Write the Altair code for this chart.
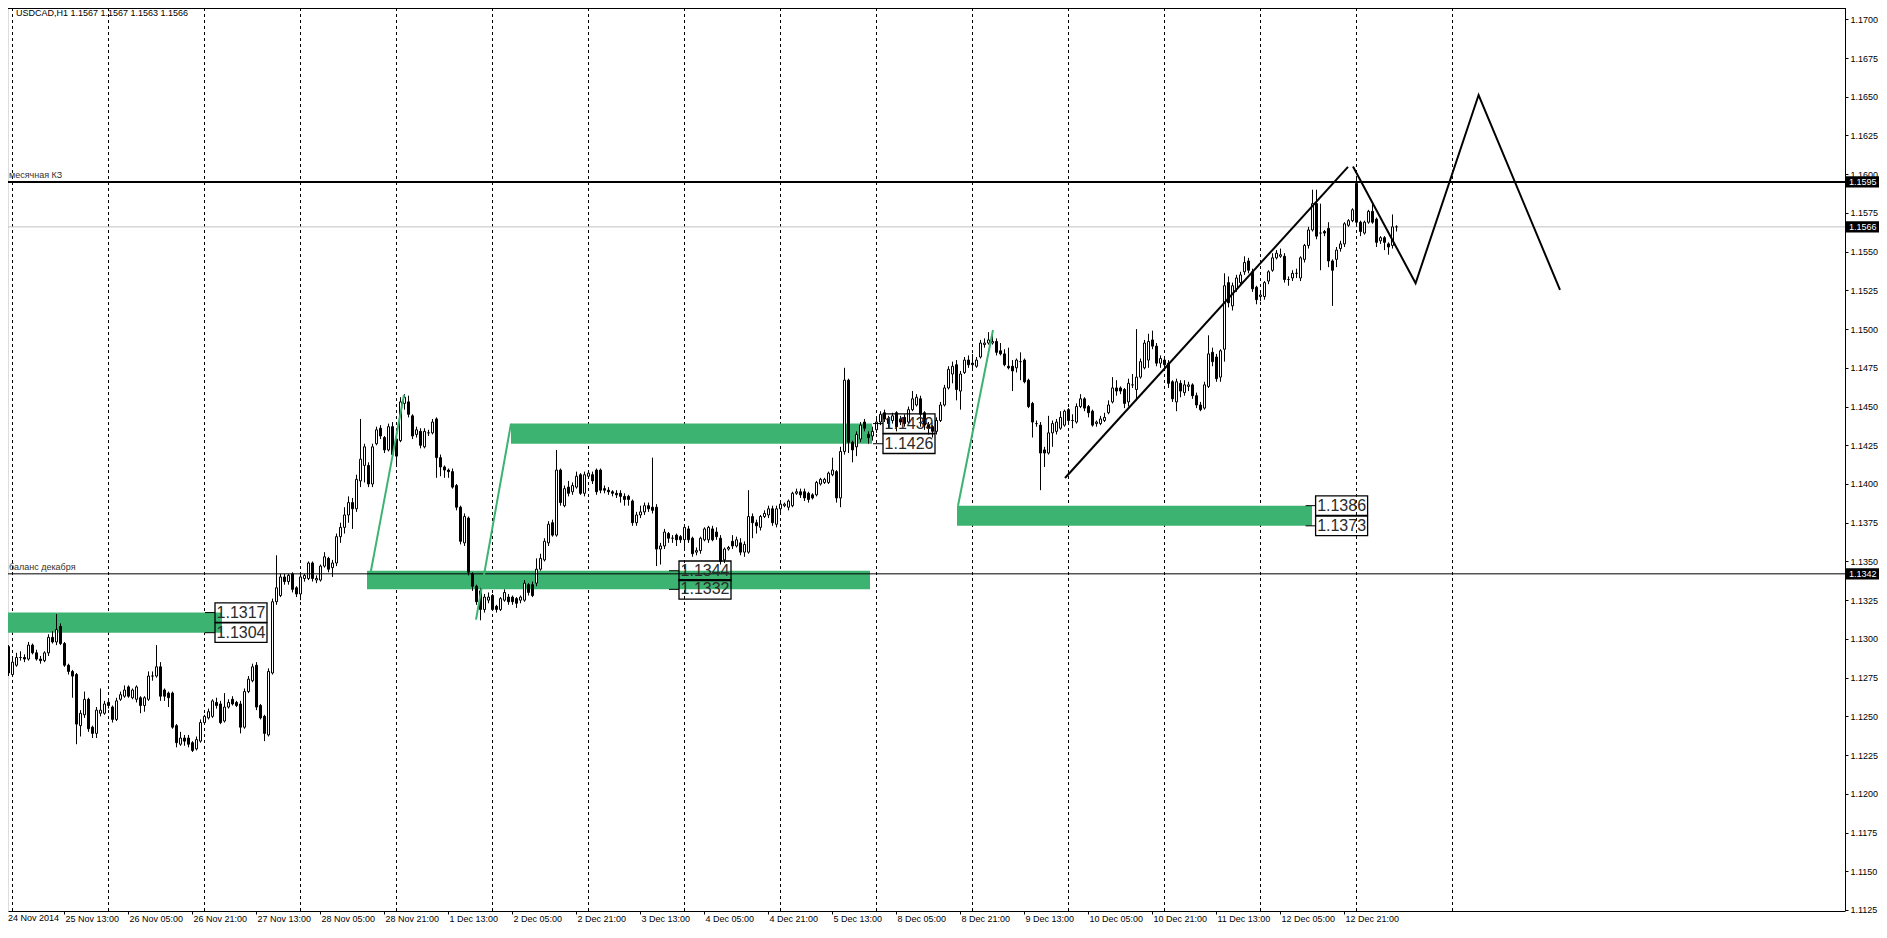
import json
import altair as alt
import pandas as pd

# ---------------- data (candles in pips above 1.1000, one bar per hour) ----------------
BASE = 1.1
PIP = 0.0001

O = [296,299,295,277,283,288,288,287,296,291,
     287,286,291,301,298,308,297,283,279,277,
     244,251,261,243,239,252,252,259,256,248,
     261,263,269,262,261,262,257,261,276,276,
     282,267,265,265,244,232,236,236,233,229,
     234,246,249,250,259,258,247,256,261,259,
     258,243,266,273,283,257,250,238,278,324,
     328,340,337,342,333,329,339,339,349,338,
     338,347,352,346,349,366,372,380,388,384,
     402,412,412,400,426,436,430,422,437,429,
     428,452,453,444,432,434,424,433,433,442,
     417,411,409,408,399,385,362,378,342,334,
     331,319,325,328,321,319,325,327,327,326,
     325,325,335,335,336,345,351,362,375,367,
     409,386,398,395,398,406,394,405,406,409,
     409,397,396,395,394,394,392,392,389,375,
     380,382,386,385,385,358,360,368,365,367,
     366,364,371,365,356,357,364,364,371,369,
     365,351,358,363,360,362,356,356,379,375,
     372,379,380,384,374,384,386,385,386,394,
     395,395,394,393,393,400,401,401,406,408,
     391,421,467,427,424,429,440,432,431,435,
     440,446,442,441,446,442,443,440,448,451,
     455,446,438,437,434,441,451,462,471,477,
     460,472,480,478,476,482,490,491,491,492,
     486,484,476,476,475,479,480,467,452,439,
     438,422,420,433,434,436,438,448,441,440,
     450,455,450,447,439,439,441,446,453,462,
     462,461,453,464,461,469,475,480,493,489,
     478,480,478,466,453,465,459,463,464,457,
     451,449,463,485,482,469,487,530,515,526,
     530,537,544,537,527,521,521,531,538,546,
     547,547,532,533,536,533,545,554,564,581,
     562,563,565,544,545,552,555,567,570,594,
     569,562,569,576,571,557,559,555,554,566]
H = [301,300,296,287,291,292,290,298,297,293,
     289,292,303,305,316,310,298,284,280,278,
     254,266,262,244,256,268,260,261,257,262,
     266,270,270,268,270,263,263,279,279,296,
     285,268,266,266,245,240,238,238,234,237,
     248,251,255,261,262,260,265,261,263,260,
     260,268,276,284,285,258,251,281,326,354,
     342,342,342,343,334,343,342,350,350,341,
     348,356,353,351,368,375,385,392,391,406,
     442,426,414,426,437,438,431,439,440,430,
     456,458,457,445,437,436,436,435,442,443,
     419,412,410,410,400,386,381,379,343,335,
     333,329,330,329,322,327,332,329,328,327,
     328,338,336,337,352,355,365,376,377,422,
     410,399,402,401,408,407,408,409,408,410,
     410,399,398,396,396,396,394,393,390,382,
     386,388,388,417,387,362,371,369,367,368,
     367,374,373,366,359,366,372,373,373,372,
     367,359,360,367,366,365,363,396,381,377,
     380,383,386,386,386,389,388,390,395,397,
     397,397,395,394,402,404,404,408,417,409,
     424,475,468,428,434,440,442,434,437,442,
     447,448,444,446,447,444,445,450,460,458,
     457,447,440,438,443,453,464,476,479,480,
     473,482,483,484,482,493,494,498,499,494,
     491,487,488,480,481,485,481,468,453,441,
     440,424,444,441,442,447,448,449,445,452,
     458,456,451,448,441,444,446,454,469,467,
     463,462,468,471,500,481,493,497,499,491,
     483,482,480,467,468,467,467,466,465,459,
     453,466,496,488,484,487,536,534,530,535,
     537,547,546,539,528,524,531,538,549,551,
     552,549,534,538,539,547,555,566,590,590,
     581,564,569,545,553,557,569,571,578,597,
     570,570,577,582,572,560,560,556,574,567]
L = [292,290,276,276,282,286,285,286,290,286,
     284,285,289,297,296,296,282,277,262,232,
     237,249,240,236,236,250,251,255,246,247,
     260,262,262,261,259,252,253,260,273,275,
     260,260,256,242,230,231,231,230,227,228,
     233,245,248,249,255,245,246,255,257,256,
     239,242,265,272,254,248,234,237,277,322,
     327,335,335,330,327,325,337,338,337,336,
     337,346,343,340,347,362,368,375,371,382,
     398,401,398,398,425,429,420,421,417,412,
     427,448,443,429,430,423,423,431,432,404,
     405,404,404,397,383,361,360,341,331,322,
     312,317,323,318,317,318,324,322,322,320,
     323,324,328,327,334,344,350,360,366,366,
     386,385,392,393,397,393,392,404,400,393,
     394,394,393,392,391,388,386,386,373,373,
     378,380,382,381,347,348,358,362,362,360,
     362,357,362,353,354,355,363,362,363,364,
     348,349,357,358,359,354,353,355,365,368,
     370,378,378,373,372,382,385,383,385,393,
     391,389,388,390,392,399,400,400,405,388,
     385,419,420,414,418,427,434,426,428,433,
     438,440,436,439,434,438,437,439,447,450,
     437,435,432,430,432,440,450,461,465,454,
     448,471,475,474,475,481,488,490,490,483,
     483,476,474,460,472,467,465,449,430,437,
     396,411,419,424,432,435,437,439,436,439,
     449,447,443,437,437,438,440,445,452,457,
     458,449,450,462,454,468,474,475,487,476,
     475,475,462,453,447,456,457,460,455,449,
     447,448,462,476,466,466,479,514,512,524,
     528,535,536,524,516,518,519,529,537,545,
     546,530,528,531,533,531,543,552,563,558,
     538,560,540,515,540,550,553,566,569,566,
     560,561,568,568,553,555,551,548,552,563]
C = [299,295,278,285,288,288,287,296,291,287,
     286,291,301,298,306,297,283,279,276,245,
     252,261,242,239,254,254,258,257,248,260,
     264,267,263,267,269,257,262,276,276,282,
     263,263,262,243,233,236,234,232,228,235,
     246,250,253,260,257,246,256,259,258,257,
     243,266,274,282,256,249,239,279,324,333,
     340,337,341,332,329,340,341,349,339,339,
     347,353,345,349,366,372,380,388,384,403,
     416,424,400,424,435,431,422,437,419,418,
     453,456,445,431,435,425,434,433,440,417,
     411,409,408,398,385,363,379,343,334,324,
     319,327,327,319,319,326,330,324,324,323,
     327,336,330,328,345,352,363,374,367,409,
     388,397,394,399,405,394,406,407,402,395,
     396,396,395,394,393,392,390,390,375,380,
     382,386,384,383,358,360,369,365,365,364,
     364,372,364,355,357,365,371,372,364,366,
     350,358,359,360,364,356,361,379,375,373,
     379,381,384,375,384,387,387,389,394,395,
     393,391,390,391,401,403,403,407,409,391,
     421,467,427,422,432,438,436,430,434,440,
     445,442,439,444,437,440,439,448,455,456,
     445,438,436,434,441,451,462,474,476,461,
     471,480,477,477,480,491,491,493,492,485,
     484,477,475,473,480,479,466,450,440,439,
     420,420,433,439,440,443,447,441,441,450,
     455,449,446,438,440,442,443,451,462,460,
     460,452,465,464,469,479,491,492,489,478,
     481,477,465,455,466,460,464,464,457,451,
     448,464,484,479,468,486,528,517,528,533,
     535,543,538,526,519,522,530,537,546,549,
     548,532,532,536,536,546,554,564,581,560,
     562,562,544,538,551,555,568,570,577,569,
     563,569,576,569,556,559,556,553,566,566]

time_label_bars = [0, 16, 32, 48, 64, 80, 96, 112, 128, 144, 160,
                   176, 192, 208, 224, 240, 256, 272, 288, 304, 320, 336]
time_labels = ["24 Nov 2014", "25 Nov 13:00", "26 Nov 05:00", "26 Nov 21:00",
               "27 Nov 13:00", "28 Nov 05:00", "28 Nov 21:00", "1 Dec 13:00",
               "2 Dec 05:00", "2 Dec 21:00", "3 Dec 13:00", "4 Dec 05:00",
               "4 Dec 21:00", "5 Dec 13:00", "8 Dec 05:00", "8 Dec 21:00",
               "9 Dec 13:00", "10 Dec 05:00", "10 Dec 21:00", "11 Dec 13:00",
               "12 Dec 05:00", "12 Dec 21:00"]
day_start_bars = [3, 27, 51, 75, 99, 123, 147, 171, 195, 219, 243, 267, 291, 315, 339, 363]
price_ticks = [1.1125, 1.1150, 1.1175, 1.1200, 1.1225, 1.1250, 1.1275, 1.1300,
               1.1325, 1.1350, 1.1375, 1.1400, 1.1425, 1.1450, 1.1475, 1.1500,
               1.1525, 1.1550, 1.1575, 1.1600, 1.1625, 1.1650, 1.1675, 1.1700]

zone_start = [0.0, 91.75, 127.75, 239.25]
zone_end = [55.5, 217.5, 218.0, 328.0]
zone_top = [1.1317, 1.1344, 1.1439, 1.1386]
zone_bottom = [1.1304, 1.1332, 1.1426, 1.1373]

tag_bar = [53.75, 53.75, 169.75, 169.75, 220.75, 220.75, 328.9, 328.9]
tag_price = [1.1317, 1.1304, 1.1344, 1.1332, 1.1439, 1.1426, 1.1386, 1.1373]

impulse_bar0 = [92.7, 119.0, 239.5]
impulse_price0 = [1.13434, 1.13124, 1.1386]
impulse_bar1 = [101.0, 127.75, 248.25]
impulse_price1 = [1.14575, 1.1439, 1.14994]

trend_bar0 = [266.25]
trend_price0 = [1.14039]
trend_bar1 = [337.0]
trend_price1 = [1.16047]

zigzag_bar = [338.25, 353.9, 369.65, 390.0]
zigzag_price = [1.1605, 1.15296, 1.16511, 1.15253]

level_price = [1.1595, 1.1342]
level_name = ["месячная КЗ", "баланс декабря"]
level_width = [2, 1]
bid_price = 1.1566
axis_tag_price = [1.1595, 1.1566, 1.1342]
header = "USDCAD,H1  1.1567 1.1567 1.1563 1.1566"

# ---------------- layout / style ----------------
PLOT_W = 1837
PLOT_H = 903
X_DOMAIN = [2, 461.25]
Y_DOMAIN = [1.112434, 1.170729]
FONT = "Liberation Sans"
GREEN = "#3CB371"
BOX_BARS = 13
CONN_BARS = 2.5
BOX_HALF = 0.00063
TAG_HALF = 0.00036

xs = alt.Scale(domain=X_DOMAIN, nice=False, zero=False, padding=0)
ys = alt.Scale(domain=Y_DOMAIN, nice=False, zero=False, padding=0)

label_expr = f"{json.dumps(time_labels)}[indexof({json.dumps(time_label_bars)}, datum.value)]"
x_axis = alt.Axis(values=time_label_bars, labelExpr=label_expr, orient="bottom", title=None,
                  grid=False, tickSize=3, tickColor="black", domainColor="black",
                  labelAlign="left", labelBaseline="top", labelPadding=0, labelOffset=1,
                  labelFont=FONT, labelFontSize=9, labelColor="black",
                  labelOverlap=False, labelFlush=False, labelBound=False)
y_axis = alt.Axis(orient="right", values=price_ticks, format=".4f", title=None, grid=False,
                  domain=False, tickSize=3, tickColor="black", labelPadding=2,
                  labelFont=FONT, labelFontSize=9, labelColor="black",
                  labelOverlap=False, labelFlush=False, labelBound=False)


def X(f):
    return alt.X(f, type="quantitative", scale=xs, axis=x_axis)


def Y(f):
    return alt.Y(f, type="quantitative", scale=ys, axis=y_axis)


candles = pd.DataFrame({
    "bar": list(range(len(O))),
    "o": [round(BASE + v * PIP, 5) for v in O],
    "h": [round(BASE + v * PIP, 5) for v in H],
    "l": [round(BASE + v * PIP, 5) for v in L],
    "c": [round(BASE + v * PIP, 5) for v in C],
})

grid = alt.Chart(pd.DataFrame({"bar": day_start_bars})).mark_rule(
    color="black", strokeWidth=1, strokeDash=[3, 3], xOffset=0.5
).encode(x=X("bar"))

zones = alt.Chart(pd.DataFrame({"x0": zone_start, "x1": zone_end,
                                "top": zone_top, "bot": zone_bottom})).mark_rect(
    color=GREEN, opacity=1
).encode(x=X("x0"), x2="x1", y=Y("top"), y2="bot")

bid = alt.Chart(pd.DataFrame({"p": [bid_price]})).mark_rule(
    color="#c0c0c0", strokeWidth=1
).encode(y=Y("p"))

levels_df = pd.DataFrame({"p": level_price, "name": level_name, "w": level_width})
levels = alt.Chart(levels_df).mark_rule(color="black").encode(
    y=Y("p"), strokeWidth=alt.StrokeWidth("w:Q", scale=None, legend=None))
level_text = alt.Chart(levels_df).mark_text(
    align="left", baseline="bottom", dy=-2, font=FONT, fontSize=9, color="#333333"
).encode(x=alt.value(1), y=Y("p"), text="name")

wicks = alt.Chart(candles).mark_rule(color="black", strokeWidth=1, xOffset=0.5).encode(
    x=X("bar"), y=Y("l"), y2="h")
bodies = alt.Chart(candles).mark_bar(width=2, stroke="black", strokeWidth=1, xOffset=0.5).encode(
    x=X("bar"), y=Y("o"), y2="c",
    fill=alt.condition("datum.c > datum.o", alt.value("white"), alt.value("black")))

impulses = alt.Chart(pd.DataFrame({"x0": impulse_bar0, "y0": impulse_price0,
                                   "x1": impulse_bar1, "y1": impulse_price1})).mark_rule(
    color=GREEN, strokeWidth=2
).encode(x=X("x0"), x2="x1", y=Y("y0"), y2="y1")

trend = alt.Chart(pd.DataFrame({"x0": trend_bar0, "y0": trend_price0,
                                "x1": trend_bar1, "y1": trend_price1})).mark_rule(
    color="black", strokeWidth=2
).encode(x=X("x0"), x2="x1", y=Y("y0"), y2="y1")

zigzag = alt.Chart(pd.DataFrame({"bar": zigzag_bar, "p": zigzag_price,
                                 "k": list(range(len(zigzag_bar)))})).mark_line(
    color="black", strokeWidth=2
).encode(x=X("bar"), y=Y("p"), order="k:Q")

tags = pd.DataFrame({"bar": tag_bar, "p": tag_price})
tags["x2"] = tags["bar"] + BOX_BARS
tags["xc"] = tags["bar"] + BOX_BARS / 2
tags["xc0"] = tags["bar"] - CONN_BARS
tags["lo"] = tags["p"] - BOX_HALF
tags["hi"] = tags["p"] + BOX_HALF
tags["t"] = [f"{v:.4f}" for v in tag_price]

tag_conn = alt.Chart(tags).mark_rule(color="black", strokeWidth=1).encode(
    x=X("xc0"), x2="bar", y=Y("p"))
tag_box = alt.Chart(tags).mark_rect(fill="white", fillOpacity=0, stroke="black", strokeWidth=1.3).encode(
    x=X("bar"), x2="x2", y=Y("lo"), y2="hi")
tag_text = alt.Chart(tags).mark_text(font=FONT, fontSize=16, color="#2b2b2b", baseline="middle").encode(
    x=X("xc"), y=Y("p"), text="t")

atags = pd.DataFrame({"p": axis_tag_price})
atags["lo"] = atags["p"] - TAG_HALF
atags["hi"] = atags["p"] + TAG_HALF
atags["t"] = [f"{v:.4f}" for v in axis_tag_price]
axis_tag_box = alt.Chart(atags).mark_rect(color="black").encode(
    x=alt.value(PLOT_W + 1), x2=alt.value(PLOT_W + 34), y=Y("lo"), y2="hi")
axis_tag_text = alt.Chart(atags).mark_text(
    align="left", baseline="middle", font=FONT, fontSize=9, color="white"
).encode(x=alt.value(PLOT_W + 4), y=Y("p"), text="t")

# first time label sits left of the visible domain, so it is drawn as text below the axis
first_label = alt.Chart(pd.DataFrame({"bar": time_label_bars[:1], "t": time_labels[:1]})).mark_text(
    align="left", baseline="top", dx=8, dy=3, font=FONT, fontSize=9, color="black"
).encode(x=X("bar"), y=alt.value(PLOT_H), text="t")

head = alt.Chart(pd.DataFrame({"t": [header]})).mark_text(
    align="left", baseline="middle", font=FONT, fontSize=9, color="black"
).encode(x=alt.value(8), y=alt.value(4.5), text="t")

frame = pd.DataFrame({"k": [0]})
top_line = alt.Chart(frame).mark_rule(color="black", strokeWidth=1).encode(
    x=alt.value(0), x2=alt.value(PLOT_W), y=alt.value(0.5), y2=alt.value(0.5))
right_line = alt.Chart(frame).mark_rule(color="black", strokeWidth=1).encode(
    x=alt.value(PLOT_W + 0.5), x2=alt.value(PLOT_W + 0.5), y=alt.value(0), y2=alt.value(PLOT_H))

chart = alt.layer(
    grid, zones, bid, wicks, bodies, levels, impulses, trend, zigzag,
    tag_conn, tag_box, tag_text, level_text, axis_tag_box, axis_tag_text,
    first_label, head, top_line, right_line
).properties(
    width=PLOT_W, height=PLOT_H,
    autosize=alt.AutoSizeParams(type="none"),
    padding={"left": 0, "top": 0, "right": 34, "bottom": 14},
).configure_view(strokeWidth=0).configure(background="white")

chart.save("out.html", embed_options={"renderer": "svg", "actions": False})
